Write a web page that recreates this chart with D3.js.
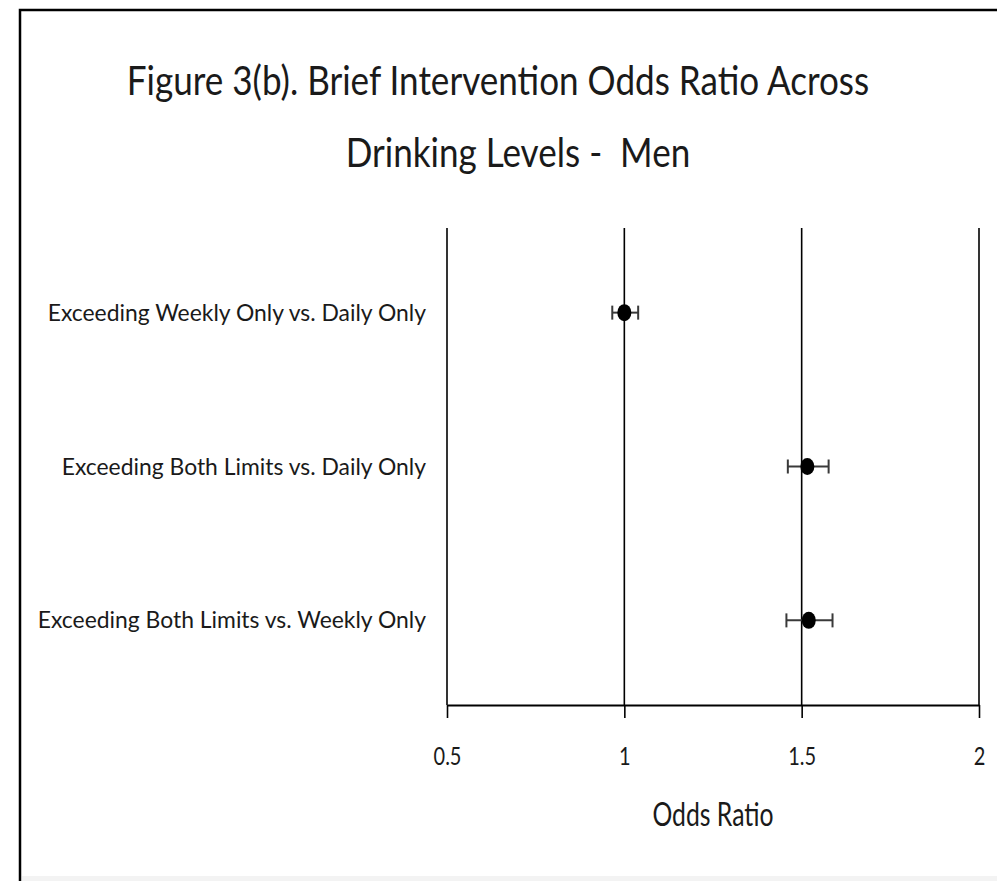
<!DOCTYPE html>
<html>
<head>
<meta charset="utf-8">
<script src="https://cdn.jsdelivr.net/npm/d3@7"></script>
<style>
  html, body { margin: 0; padding: 0; background: #fff; }
  svg { display: block; }
  text { font-family: Lato, "Open Sans", "DejaVu Sans", sans-serif; fill: #1a1a1a; }
</style>
</head>
<body>
<svg id="chart" width="997" height="881"></svg>
<script>
const titleLines = ["Figure 3(b). Brief Intervention Odds Ratio Across", "Drinking Levels -  Men"];
const categories = [
  "Exceeding Weekly Only vs. Daily Only",
  "Exceeding Both Limits vs. Daily Only",
  "Exceeding Both Limits vs. Weekly Only"
];
const oddsRatio = [1.00, 1.516, 1.52];
const ciLower = [0.966, 1.461, 1.457];
const ciUpper = [1.039, 1.576, 1.587];
const xTicks = [0.5, 1, 1.5, 2];
const xAxisTitle = "Odds Ratio";

const svg = d3.select("#chart");
const W = 997, H = 881;

// outer frame
svg.append("rect").attr("x", 0).attr("y", 0).attr("width", W).attr("height", H).attr("fill", "#fff");
svg.append("rect").attr("x", 20).attr("y", 10).attr("width", 1100).attr("height", 1000)
  .attr("fill", "none").attr("stroke", "#000").attr("stroke-width", 2.5);
svg.append("rect").attr("x", 22).attr("y", 876).attr("width", W).attr("height", 6).attr("fill", "#f3f3f3");

const plot = { left: 447, right: 979, top: 228, bottom: 705 };

const x = d3.scaleLinear().domain([0.5, 2]).range([plot.left, plot.right]);
const y = d3.scalePoint().domain(categories).range([plot.top, plot.bottom]).padding(0.55);

// width adjust helper to mimic the narrow, tall Calibri-like lettering
function condense(sel, f) {
  sel.each(function () {
    const len = this.getComputedTextLength();
    d3.select(this).attr("textLength", len * f).attr("lengthAdjust", "spacingAndGlyphs");
  });
}

// title
svg.append("g").selectAll("text").data(titleLines).join("text")
  .attr("x", (d, i) => i === 0 ? 498 : 518)
  .attr("y", (d, i) => 95 + i * 72)
  .attr("text-anchor", "middle")
  .attr("font-size", 41)
  .attr("xml:space", "preserve")
  .text(d => d)
  .call(condense, 0.855);

// gridlines (vertical) at ticks > 0.5
svg.append("g").selectAll("line").data(xTicks.slice(1)).join("line")
  .attr("x1", d => x(d)).attr("x2", d => x(d))
  .attr("y1", plot.top).attr("y2", plot.bottom)
  .attr("stroke", "#000").attr("stroke-width", 1.6);

// y axis line
svg.append("line")
  .attr("x1", x(0.5)).attr("x2", x(0.5)).attr("y1", plot.top).attr("y2", plot.bottom)
  .attr("stroke", "#000").attr("stroke-width", 1.6);

// x axis
const xAxis = d3.axisBottom(x).tickValues(xTicks).tickFormat(d3.format("")).tickSize(13).tickSizeOuter(0).tickPadding(29);
const gx = svg.append("g").attr("transform", `translate(0,${plot.bottom})`).call(xAxis);
gx.select(".domain").attr("stroke", "#000").attr("stroke-width", 2);
gx.selectAll(".tick line").attr("stroke", "#000").attr("stroke-width", 1.6);
gx.selectAll(".tick text").attr("font-size", 25).attr("fill", "#1a1a1a")
  .style("font-family", "Lato, 'Open Sans', sans-serif").call(condense, 0.8);

// x axis title
svg.append("text").attr("x", (plot.left + plot.right) / 2).attr("y", 826)
  .attr("text-anchor", "middle").attr("font-size", 33).text(xAxisTitle).call(condense, 0.75);

// category labels
svg.append("g").selectAll("text").data(categories).join("text")
  .attr("x", 426).attr("y", d => y(d)).attr("dy", "0.35em")
  .attr("text-anchor", "end").attr("font-size", 23).text(d => d)
  .call(condense, 0.995);

// error bars
const rows = categories.map((c, i) => ({ c, or: oddsRatio[i], lo: ciLower[i], hi: ciUpper[i] }));
const eb = svg.append("g");
eb.selectAll("line.bar").data(rows).join("line").attr("class", "bar")
  .attr("x1", d => x(d.lo)).attr("x2", d => x(d.hi))
  .attr("y1", d => y(d.c)).attr("y2", d => y(d.c))
  .attr("stroke", "#3a3a3a").attr("stroke-width", 2);
eb.selectAll("line.capl").data(rows).join("line").attr("class", "capl")
  .attr("x1", d => x(d.lo)).attr("x2", d => x(d.lo))
  .attr("y1", d => y(d.c) - 7).attr("y2", d => y(d.c) + 7)
  .attr("stroke", "#3a3a3a").attr("stroke-width", 2);
eb.selectAll("line.capr").data(rows).join("line").attr("class", "capr")
  .attr("x1", d => x(d.hi)).attr("x2", d => x(d.hi))
  .attr("y1", d => y(d.c) - 7).attr("y2", d => y(d.c) + 7)
  .attr("stroke", "#3a3a3a").attr("stroke-width", 2);

// points
svg.append("g").selectAll("ellipse").data(rows).join("ellipse")
  .attr("cx", d => x(d.or)).attr("cy", d => y(d.c))
  .attr("rx", 7).attr("ry", 8.5).attr("fill", "#000");
</script>
</body>
</html>
